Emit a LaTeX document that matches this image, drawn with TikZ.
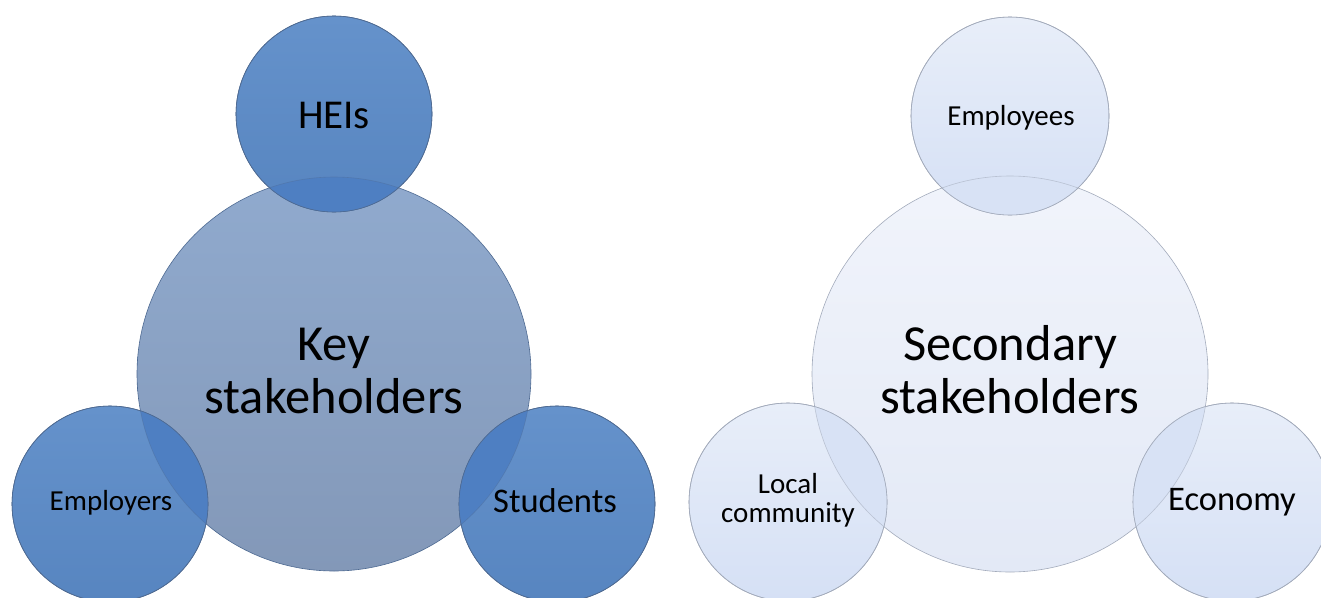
\documentclass[tikz,border=0pt]{standalone}
\usepackage{fontspec}
\setmainfont{Carlito}
\begin{document}
\begin{tikzpicture}[x=1pt,y=-1pt,
  % key stakeholder palette
  keybig/.style={circle,minimum size=394pt,inner sep=0pt,top color=keyBigTop,bottom color=keyBigBot,draw=keyEdge,line width=0.6pt},
  keysmall/.style={circle,minimum size=196pt,inner sep=0pt,top color=keySmallTop,bottom color=keySmallBot,draw=keyEdge,line width=0.6pt},
  % secondary stakeholder palette
  secbig/.style={circle,minimum size=396pt,inner sep=0pt,top color=secBigTop,bottom color=secBigBot,draw=secEdge,line width=0.6pt},
  secsmall/.style={circle,minimum size=198pt,inner sep=0pt,top color=secSmallTop,bottom color=secSmallBot,draw=secEdge,line width=0.6pt},
  lbl/.style={inner sep=0pt,text=black,anchor=base,align=center},
  hugetxt/.style={lbl,font=\fontsize{50.5}{53}\selectfont},
  midtxt/.style={lbl,font=\fontsize{34.5}{38}\selectfont},
  smalltxt/.style={lbl,font=\fontsize{29}{28.5}\selectfont},
  heitxt/.style={lbl,font=\fontsize{41}{44}\selectfont}
]
\definecolor{keyBigTop}{HTML}{90AACE}
\definecolor{keyBigBot}{HTML}{8398B8}
\definecolor{keySmallTop}{HTML}{6592CB}
\definecolor{keySmallBot}{HTML}{5785C0}
\definecolor{keyOverlap}{HTML}{4E7FC2}
\definecolor{keyEdge}{HTML}{4E6A92}
\definecolor{secBigTop}{HTML}{F1F4FB}
\definecolor{secBigBot}{HTML}{E3E9F6}
\definecolor{secSmallTop}{HTML}{E8EEF9}
\definecolor{secSmallBot}{HTML}{D5E0F5}
\definecolor{secOverlap}{HTML}{D8E2F5}
\definecolor{secEdge}{HTML}{A3ABBB}

\useasboundingbox (0,0) rectangle (1321,597);
\clip (0,0) rectangle (1321,597);

% ---- key stakeholders ----
\node[keybig] (key) at (334,374) {};
\node[keysmall] (hei) at (334,114) {};
\node[keysmall] (emp) at (110,504) {};
\node[keysmall] (stu) at (557,504) {};
\foreach \s in {hei,emp,stu}{
  \begin{scope}
    \clip (key.center) circle (197);
    \fill[keyOverlap] (\s.center) circle (98);
  \end{scope}
  \begin{scope}
    \clip (\s.center) circle (98);
    \draw[keyEdge,opacity=0.4,line width=0.6pt] (key.center) circle (197);
  \end{scope}
  \draw[keyEdge,line width=0.6pt] (\s.center) circle (98);
}

% ---- secondary stakeholders ----
\node[secbig] (sec) at (1010,374) {};
\node[secsmall] (ees) at (1010,116) {};
\node[secsmall] (loc) at (788,502) {};
\node[secsmall] (eco) at (1232,502) {};
\foreach \s in {ees,loc,eco}{
  \begin{scope}
    \clip (sec.center) circle (198);
    \fill[secOverlap] (\s.center) circle (99);
  \end{scope}
  \begin{scope}
    \clip (\s.center) circle (99);
    \draw[secEdge,opacity=0.6,line width=0.6pt] (sec.center) circle (198);
  \end{scope}
  \draw[secEdge,line width=0.6pt] (\s.center) circle (99);
}

% ---- labels (base anchor sits on the last line) ----
\node[hugetxt] (keyT) at (334,413) {Key\\stakeholders};
\node[heitxt] (heiT) at (334,128) {HEIs};
\node[smalltxt] (empT) at (111,510) {Employers};
\node[midtxt] (stuT) at (555,512) {Students};

\node[hugetxt] (secT) at (1010,413) {Secondary\\stakeholders};
\node[smalltxt] (eesT) at (1011,125) {Employees};
\node[smalltxt] (locT) at (788,522) {Local\\community};
\node[midtxt] (ecoT) at (1232,510) {Economy};
\end{tikzpicture}
\end{document}
